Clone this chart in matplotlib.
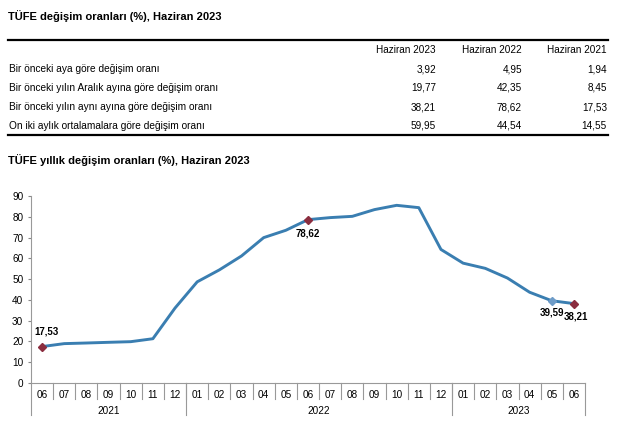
import matplotlib
matplotlib.use("Agg")
import matplotlib.pyplot as plt
import matplotlib.transforms as mtransforms

plt.rcParams['font.family'] = ['Liberation Sans', 'DejaVu Sans']

title1 = "TÜFE değişim oranları (%), Haziran 2023"
title2 = "TÜFE yıllık değişim oranları (%), Haziran 2023"
col_headers = ["Haziran 2023", "Haziran 2022", "Haziran 2021"]
row_labels = ["Bir önceki aya göre değişim oranı",
              "Bir önceki yılın Aralık ayına göre değişim oranı",
              "Bir önceki yılın aynı ayına göre değişim oranı",
              "On iki aylık ortalamalara göre değişim oranı"]
table_values = [["3,92", "4,95", "1,94"],
                ["19,77", "42,35", "8,45"],
                ["38,21", "78,62", "17,53"],
                ["59,95", "44,54", "14,55"]]

months = ["06", "07", "08", "09", "10", "11", "12",
          "01", "02", "03", "04", "05", "06", "07", "08", "09", "10", "11", "12",
          "01", "02", "03", "04", "05", "06"]
years = ["2021", "2022", "2023"]
year_counts = [7, 12, 6]
values = [17.53, 18.95, 19.25, 19.58, 19.89, 21.31, 36.08,
          48.69, 54.44, 61.14, 69.97, 73.50, 78.62, 79.60, 80.21, 83.45, 85.51, 84.39, 64.27,
          57.68, 55.18, 50.51, 43.68, 39.59, 38.21]
labelled = {0: "17,53", 12: "78,62", 23: "39,59", 24: "38,21"}

W, H = 623, 425
fig = plt.figure(figsize=(W / 100, H / 100), dpi=100)
fig.patch.set_facecolor("white")

def fx(x):
    return x / W

def fy(y):
    return 1 - y / H

# Title 1
fig.text(fx(8), fy(16), title1, fontsize=8, fontweight="bold", va="center", ha="left")

# Table
fig.add_artist(plt.Line2D([fx(8), fx(608)], [fy(40), fy(40)], color="black", lw=1.6))
fig.add_artist(plt.Line2D([fx(8), fx(608)], [fy(135), fy(135)], color="black", lw=1.6))
col_x = [436, 522, 607]
for cx, h in zip(col_x, col_headers):
    fig.text(fx(cx), fy(50), h, fontsize=7.2, ha="right", va="center")
row_y = [69, 88, 107, 126]
for ry, lab, vals in zip(row_y, row_labels, table_values):
    fig.text(fx(9), fy(ry), lab, fontsize=7.3, ha="left", va="center")
    for cx, v in zip(col_x, vals):
        fig.text(fx(cx), fy(ry), v, fontsize=7.2, ha="right", va="center")

# Title 2
fig.text(fx(8), fy(160), title2, fontsize=8, fontweight="bold", va="center", ha="left")

# Chart axes
left, right, top, bottom = 31, 585, 196, 383
ax = fig.add_axes([fx(left), fy(bottom), fx(right - left), (bottom - top) / H])
x = list(range(len(values)))
line_color = "#3A7EB1"
ax.plot(x, values, color=line_color, lw=2.1, solid_joinstyle="round", zorder=3)
for i, lab in labelled.items():
    mcol = "#6E9CC8" if i == 23 else "#8B2D3F"
    ax.plot([i], [values[i]], marker="D", ms=4.2, color=mcol, zorder=4, clip_on=False)
offsets = {0: (4, 15), 12: (0, -14), 23: (0, -12), 24: (2, -13)}
for i, lab in labelled.items():
    dx, dy = offsets[i]
    ax.annotate(lab, (i, values[i]), xytext=(dx, dy), textcoords="offset pixels",
                ha="center", va="center", fontsize=7, fontweight="bold")

ax.set_xlim(-0.5, len(values) - 0.5)
ax.set_ylim(0, 90)
ax.set_yticks(range(0, 91, 10))
ax.tick_params(axis="y", labelsize=7.2, length=2.5, color="#888888", pad=3)
ax.set_xticks([])
for s in ["top", "right"]:
    ax.spines[s].set_visible(False)
for s in ["left", "bottom"]:
    ax.spines[s].set_color("#999999")
    ax.spines[s].set_linewidth(0.8)

trans = mtransforms.blended_transform_factory(ax.transData, fig.transFigure)
# month labels and separators
for i, m in enumerate(months):
    ax.text(i, fy(395), m, fontsize=7.2, ha="center", va="center", transform=trans)
for i in range(len(months) - 1):
    ax.add_artist(plt.Line2D([i + 0.5, i + 0.5], [fy(bottom), fy(399)], color="#999999",
                             lw=0.8, transform=trans, clip_on=False))
# year separators
pos = -0.5
bounds = [pos]
for c in year_counts:
    pos += c
    bounds.append(pos)
for b in bounds:
    ax.add_artist(plt.Line2D([b, b], [fy(bottom), fy(415)], color="#999999",
                             lw=0.8, transform=trans, clip_on=False))
for yname, a, b in zip(years, bounds[:-1], bounds[1:]):
    ax.text((a + b) / 2, fy(411), yname, fontsize=7.2, ha="center", va="center", transform=trans)

fig.savefig("out.png", dpi=100)
